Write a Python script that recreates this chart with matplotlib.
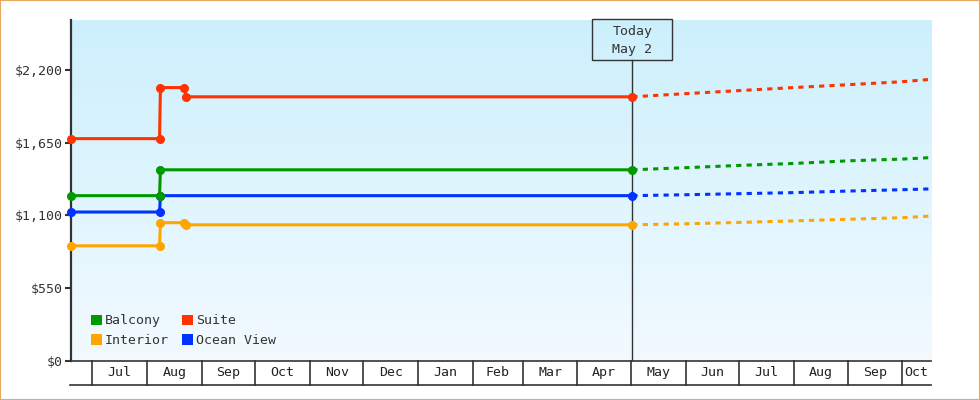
import matplotlib
matplotlib.use("Agg")
import matplotlib.pyplot as plt
import matplotlib.dates as mdates
import matplotlib.transforms as mtransforms
from matplotlib.patches import Rectangle, Patch
import numpy as np
import pandas as pd

plt.rcParams['font.family'] = ['DejaVu Sans Mono', 'DejaVu Sans']
plt.rcParams['font.size'] = 9.5

# price history (solid) - step changes in August
hist_dates = ["2024-06-19T00:00", "2024-08-08T00:00", "2024-08-08T12:00", "2024-08-22T00:00", "2024-08-23T00:00", "2025-05-02T00:00"]
balcony_hist = [1249, 1249, 1445, 1445, 1445, 1445]
suite_hist = [1681, 1681, 2068, 2068, 1998, 1998]
interior_hist = [869, 869, 1044, 1044, 1028, 1028]
ocean_hist = [1125, 1125, 1249, 1249, 1249, 1249]
# which history points carry a marker (price changes only)
balcony_marks = [0, 1, 2, 5]
suite_marks = [0, 1, 2, 3, 4, 5]
interior_marks = [0, 1, 2, 3, 4, 5]
ocean_marks = [0, 1, 2, 5]

# forecast (dotted)
fc_dates = ["2025-05-02", "2025-06-01", "2025-07-01", "2025-08-01", "2025-09-01", "2025-10-01", "2025-10-17"]
balcony_fc = [1445, 1461, 1478, 1493, 1513, 1526, 1537]
suite_fc = [1998, 2022, 2045, 2068, 2090, 2112, 2130]
interior_fc = [1028, 1036, 1046, 1058, 1070, 1082, 1094]
ocean_fc = [1249, 1256, 1264, 1272, 1284, 1294, 1300]

colors = {"Balcony": "#009900", "Suite": "#ff3300", "Interior": "#ffa500", "Ocean View": "#0033ff"}

y_ticks = [0, 550, 1100, 1650, 2200]
today = pd.Timestamp("2025-05-02")
x_start = pd.Timestamp("2024-06-19")
x_end = pd.Timestamp("2025-10-17 15:00")


def main():
    fig = plt.figure(figsize=(9.8, 4.0), dpi=100)
    fig.patches.append(Rectangle((0, 0), 1, 1, transform=fig.transFigure,
                                 fill=False, edgecolor="#e8a860", linewidth=1.5))
    ax = fig.add_axes([71 / 980, 1 - 360.5 / 400, 860 / 980, 340.5 / 400])

    # gradient background
    grad = np.linspace(0, 1, 256).reshape(-1, 1)
    top = np.array([0.80, 0.94, 0.99])
    bot = np.array([0.95, 0.98, 1.0])
    img = top + (bot - top) * grad[:, :, None]
    ax.imshow(img, extent=[0, 1, 0, 1], transform=ax.transAxes, aspect="auto", zorder=0)

    hd = pd.to_datetime(hist_dates, format="ISO8601")
    fd = pd.to_datetime(fc_dates)
    hist = {"Balcony": balcony_hist, "Suite": suite_hist, "Interior": interior_hist, "Ocean View": ocean_hist}
    marks = {"Balcony": balcony_marks, "Suite": suite_marks, "Interior": interior_marks, "Ocean View": ocean_marks}
    fc = {"Balcony": balcony_fc, "Suite": suite_fc, "Interior": interior_fc, "Ocean View": ocean_fc}

    # today line
    ax.axvline(today, ymax=(360.5 - 60) / 340.5, color="#333333", linewidth=1, zorder=2)

    for name in ["Interior", "Ocean View", "Balcony", "Suite"]:
        c = colors[name]
        ax.plot(hd, hist[name], color=c, linewidth=2.2, marker="o", markersize=5.5,
                markevery=marks[name], clip_on=False, zorder=3)
        ax.plot(fd, fc[name], color=c, linewidth=2.2, linestyle=(0, (1.7, 1.7)),
                zorder=3)

    ax.set_xlim(x_start, x_end)
    ax.set_ylim(0, 2580)
    ax.set_yticks(y_ticks)
    ax.set_yticklabels([f"${v:,}" for v in y_ticks])
    ax.tick_params(axis="y", length=4, width=1.5, color="#333333", labelcolor="#333333", pad=2)
    ax.set_xticks([])

    for s in ["top", "right"]:
        ax.spines[s].set_visible(False)
    ax.spines["left"].set_linewidth(1.6)
    ax.spines["left"].set_color("#333333")
    ax.spines["bottom"].set_linewidth(1.2)
    ax.spines["bottom"].set_color("#333333")

    # month boxes below the axis
    trans = mtransforms.blended_transform_factory(ax.transData, ax.transAxes)
    yb = -(385 - 360.5) / 340.5
    ax.plot([x_start - pd.Timedelta(days=0.6), x_end], [yb, yb], transform=trans,
            color="#333333", linewidth=1.2, clip_on=False)
    bounds = list(pd.date_range("2024-07-01", "2025-10-01", freq="MS"))
    for b in bounds:
        ax.plot([b, b], [0, yb], transform=trans, color="#333333", linewidth=1.2, clip_on=False)
    edges = bounds + [x_end]
    for a, b in zip(edges[:-1], edges[1:]):
        mid = a + (b - a) / 2
        ax.text(mid, yb / 2, a.strftime("%b"), transform=trans, ha="center", va="center",
                color="#222222", fontsize=9.5, clip_on=False)

    # today box
    box_w = 80 / 860 * (x_end - x_start).days
    ax.add_patch(Rectangle((mdates.date2num(today) - box_w / 2, (360.5 - 60) / 340.5),
                           box_w, 40.5 / 340.5, transform=trans, fill=False,
                           edgecolor="#333333", linewidth=1, zorder=4, clip_on=False))
    ax.text(today, (360.5 - 40) / 340.5, "Today\nMay 2", transform=trans, ha="center",
            va="center", color="#333333", fontsize=9.5, linespacing=1.5, zorder=5)

    handles = [Patch(facecolor=colors[n], edgecolor="none") for n in ["Balcony", "Interior", "Suite", "Ocean View"]]
    ax.legend(handles, ["Balcony", "Interior", "Suite", "Ocean View"], ncol=2, frameon=False,
              loc="lower left", bbox_to_anchor=(0.017, 0.024), handlelength=0.85, handleheight=0.85,
              handletextpad=0.2, columnspacing=1.0, labelspacing=0.5, borderaxespad=0,
              labelcolor="#333333")

    fig.savefig("out.png", dpi=100)


if __name__ == "__main__":
    main()
